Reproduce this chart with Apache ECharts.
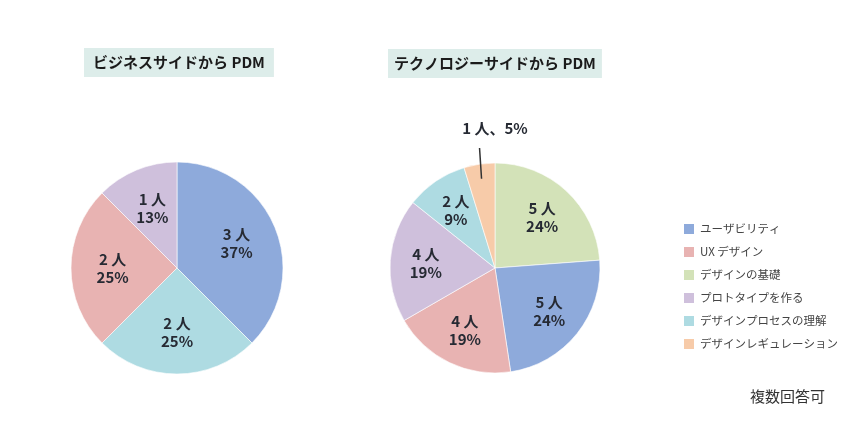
<!DOCTYPE html>
<html>
<head>
<meta charset="utf-8">
<script src="https://cdn.jsdelivr.net/npm/echarts@6/dist/echarts.min.js"></script>
<style>
html,body{margin:0;padding:0;background:#fff;}
#main{width:860px;height:430px;}
</style>
</head>
<body>
<div id="main"></div>
<script>
// ---- data ----
const leftTitle = 'ビジネスサイドから PDM';
const rightTitle = 'テクノロジーサイドから PDM';
const note = '複数回答可';
const leftNames = ['ユーザビリティ', 'デザインプロセスの理解', 'UX デザイン', 'プロトタイプを作る'];
const leftValues = [3, 2, 2, 1];
const leftPercents = [37, 25, 25, 13];
const rightNames = ['デザインの基礎', 'ユーザビリティ', 'UX デザイン', 'プロトタイプを作る', 'デザインプロセスの理解', 'デザインレギュレーション'];
const rightValues = [5, 5, 4, 4, 2, 1];
const rightPercents = [24, 24, 19, 19, 9, 5];
const legendOrder = ['ユーザビリティ', 'UX デザイン', 'デザインの基礎', 'プロトタイプを作る', 'デザインプロセスの理解', 'デザインレギュレーション'];
const categoryColors = {
  'ユーザビリティ': '#8eaadb',
  'UX デザイン': '#e8b3b2',
  'デザインの基礎': '#d3e2b8',
  'プロトタイプを作る': '#cfc0dc',
  'デザインプロセスの理解': '#aedbe2',
  'デザインレギュレーション': '#f7cba9'
};
const outsideLabelIndex = 5; // right pie, smallest slice labelled outside

// ---- layout ----
const centers = [[177, 268], [495, 268]];
const radii = [106, 105];
const labelPush = [0.15, 0.25];
const FONT = '"Noto Sans CJK JP", "Noto Sans", sans-serif';

function makeData(names, values, percents, seriesIdx) {
  return names.map((n, i) => {
    const d = {
      name: n,
      value: values[i],
      pct: percents[i],
      itemStyle: { color: categoryColors[n] }
    };
    if (seriesIdx === 1 && i === outsideLabelIndex) {
      d.label = { show: false };
    }
    return d;
  });
}

function midAngle(values, idx) {
  const total = values.reduce((a, b) => a + b, 0);
  let acc = 0;
  for (let i = 0; i < idx; i++) acc += values[i];
  return ((acc + values[idx] / 2) / total) * Math.PI * 2; // clockwise from top
}

function layoutFn(seriesIdx) {
  return function (p) {
    const c = centers[seriesIdx];
    const lr = p.labelRect;
    const lcx = lr.x + lr.width / 2;
    const lcy = lr.y + lr.height / 2;
    const k = labelPush[seriesIdx];
    return { dx: (lcx - c[0]) * k, dy: (lcy - c[1]) * k };
  };
}

function pieSeries(idx, names, values, percents) {
  return {
    type: 'pie',
    center: centers[idx],
    radius: [0, radii[idx]],
    startAngle: 90,
    clockwise: true,
    animation: false,
    silent: true,
    itemStyle: { borderColor: '#fff', borderWidth: 0.6 },
    label: {
      show: true,
      position: 'inside',
      formatter: function (p) { return p.value + ' 人\n' + p.data.pct + '%'; },
      fontFamily: FONT,
      fontSize: 15,
      fontWeight: 'bold',
      color: '#262a33',
      lineHeight: 18
    },
    labelLine: { show: false },
    labelLayout: layoutFn(idx),
    data: makeData(names, values, percents, idx)
  };
}

// overlay layer carrying only the outside label (+ its leader line) of the small slice
function outsideLabelSeries() {
  const c = centers[1], r = radii[1];
  return {
    type: 'pie',
    z: 5,
    center: c,
    radius: [0, r],
    startAngle: 90,
    clockwise: true,
    animation: false,
    silent: true,
    legendHoverLink: false,
    itemStyle: { color: 'rgba(0,0,0,0)', borderWidth: 0 },
    label: { show: false },
    labelLine: { show: false },
    labelLayout: function (p) {
      if (p.dataIndex !== outsideLabelIndex) return {};
      const a = midAngle(rightValues, p.dataIndex);
      const sx = c[0] + Math.sin(a) * r * 0.86;
      const sy = c[1] - Math.cos(a) * r * 0.86;
      const ey = c[1] - r - 15;
      return {
        x: c[0], y: c[1] - r - 35,
        align: 'center', verticalAlign: 'middle',
        labelLinePoints: [[sx, sy], [sx - 1, (sy + ey) / 2], [sx - 2, ey]]
      };
    },
    data: rightNames.map((n, i) => {
      const d = { name: n, value: rightValues[i] };
      if (i === outsideLabelIndex) {
        d.label = {
          show: true, position: 'outside',
          formatter: rightValues[i] + ' 人、' + rightPercents[i] + '%',
          fontFamily: FONT, fontSize: 15, fontWeight: 'bold', color: '#262a33'
        };
        d.labelLine = { show: true, showAbove: true, lineStyle: { color: '#333', width: 1.5 } };
      }
      return d;
    })
  };
}

const chart = echarts.init(document.getElementById('main'), null, { renderer: 'canvas' });
chart.setOption({
  backgroundColor: '#ffffff',
  title: [
    {
      text: leftTitle, left: 84, top: 48,
      padding: [7, 9, 7, 9],
      backgroundColor: '#ddedea',
      textStyle: { fontFamily: FONT, fontSize: 15, fontWeight: 'bold', color: '#1b1b1b' }
    },
    {
      text: rightTitle, left: 388, top: 49,
      padding: [7, 6, 7, 6],
      backgroundColor: '#ddedea',
      textStyle: { fontFamily: FONT, fontSize: 15, fontWeight: 'bold', color: '#1b1b1b' }
    },
    {
      text: note, left: 750, top: 389,
      padding: 0,
      textStyle: { fontFamily: FONT, fontSize: 15, fontWeight: 'normal', color: '#333' }
    }
  ],
  legend: {
    orient: 'vertical',
    left: 682, top: 222,
    padding: 0,
    itemWidth: 12, itemHeight: 12,
    itemGap: 9,
    icon: 'rect',
    selectedMode: false,
    data: legendOrder.map(n => ({ name: n, itemStyle: { color: categoryColors[n] } })),
    textStyle: { fontFamily: FONT, fontSize: 11.5, color: '#444' }
  },
  series: [
    pieSeries(0, leftNames, leftValues, leftPercents),
    pieSeries(1, rightNames, rightValues, rightPercents),
    outsideLabelSeries()
  ]
});
</script>
</body>
</html>
